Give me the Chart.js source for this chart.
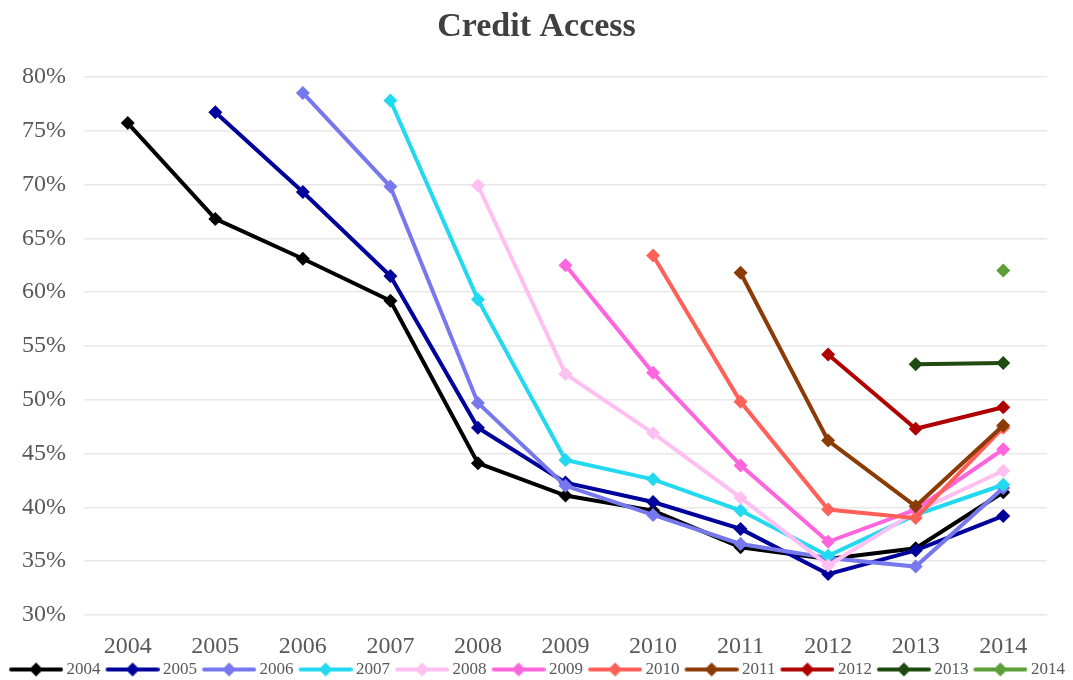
<!DOCTYPE html>
<html>
<head>
<meta charset="utf-8">
<script src="https://cdn.jsdelivr.net/npm/chart.js@4"></script>
<style>
  body { margin: 0; background: #fff; }
</style>
</head>
<body>
<canvas id="myChart" width="1073" height="680"></canvas>
<script>
// years on the x axis
var years = ["2004", "2005", "2006", "2007", "2008", "2009", "2010", "2011", "2012", "2013", "2014"];
var yTicks = [30, 35, 40, 45, 50, 55, 60, 65, 70, 75, 80];

// one cohort per line, values in %
var c2004 = [75.7, 66.8, 63.1, 59.2, 44.1, 41.1, 39.7, 36.3, 35.2, 36.2, 41.4];
var c2005 = [null, 76.7, 69.3, 61.5, 47.4, 42.3, 40.5, 38.0, 33.8, 36.0, 39.2];
var c2006 = [null, null, 78.5, 69.8, 49.7, 42.0, 39.3, 36.6, 35.3, 34.5, 41.8];
var c2007 = [null, null, null, 77.8, 59.3, 44.4, 42.6, 39.7, 35.5, 39.3, 42.1];
var c2008 = [null, null, null, null, 69.9, 52.4, 46.9, 40.9, 34.6, 39.6, 43.4];
var c2009 = [null, null, null, null, null, 62.5, 52.5, 43.9, 36.8, 39.8, 45.4];
var c2010 = [null, null, null, null, null, null, 63.4, 49.8, 39.8, 39.0, 47.4];
var c2011 = [null, null, null, null, null, null, null, 61.8, 46.2, 40.1, 47.6];
var c2012 = [null, null, null, null, null, null, null, null, 54.2, 47.3, 49.3];
var c2013 = [null, null, null, null, null, null, null, null, null, 53.3, 53.4];
var c2014 = [null, null, null, null, null, null, null, null, null, null, 62.0];

var seriesNames = ["2004", "2005", "2006", "2007", "2008", "2009", "2010", "2011", "2012", "2013", "2014"];
var seriesData = [c2004, c2005, c2006, c2007, c2008, c2009, c2010, c2011, c2012, c2013, c2014];
var colors = ["#000000", "#00009a", "#7878ee", "#22d9f0", "#ffbff0", "#ff66dd", "#ff6058", "#8c3a06", "#b00000", "#1f4a12", "#5c9e38"];

var serif = "'Liberation Serif', 'Times New Roman', serif";

// line + diamond swatch for the legend
function legendIcon(color) {
    var c = document.createElement('canvas');
    c.width = 60;
    c.height = 16;
    var g = c.getContext('2d');
    g.strokeStyle = color;
    g.lineWidth = 4;
    g.lineCap = 'round';
    g.beginPath();
    g.moveTo(8, 8);
    g.lineTo(58, 8);
    g.stroke();
    g.fillStyle = color;
    g.beginPath();
    g.moveTo(33, 1);
    g.lineTo(40, 8);
    g.lineTo(33, 15);
    g.lineTo(26, 8);
    g.closePath();
    g.fill();
    return c;
}

var datasets = [];
for (var i = 0; i < seriesNames.length; i++) {
    datasets.push({
        label: seriesNames[i],
        data: seriesData[i],
        borderColor: colors[i],
        backgroundColor: colors[i],
        borderWidth: 4,
        pointStyle: 'rectRot',
        pointRadius: 7,
        pointHoverRadius: 7,
        pointBorderWidth: 0,
        order: -i
    });
}

var ctx = document.getElementById("myChart").getContext('2d');

var myChart = new Chart(ctx, {
    type: 'line',
    data: {
        labels: years,
        datasets: datasets
    },
    options: {
        responsive: false,
        animation: false,
        layout: { padding: 0 },
        plugins: {
            title: {
                display: true,
                text: 'Credit Access',
                color: '#404040',
                font: { family: serif, size: 34, weight: 'bold' },
                padding: { top: 7, bottom: 29 }
            },
            legend: {
                position: 'bottom',
                maxHeight: 23,
                labels: {
                    usePointStyle: true,
                    pointStyleWidth: 50,
                    padding: 4,
                    color: '#595959',
                    font: { family: serif, size: 17 },
                    generateLabels: function (chart) {
                        return seriesNames.map(function (n, i) {
                            return {
                                text: n,
                                pointStyle: legendIcon(colors[i]),
                                fillStyle: colors[i],
                                strokeStyle: colors[i],
                                lineWidth: 0,
                                hidden: false,
                                datasetIndex: i,
                                fontColor: '#595959'
                            };
                        });
                    }
                }
            },
            tooltip: { enabled: false }
        },
        scales: {
            x: {
                offset: true,
                grid: { display: false, drawTicks: false },
                border: { display: false },
                afterFit: function (axis) { axis.height = 42; },
                ticks: {
                    color: '#595959',
                    font: { family: serif, size: 24, lineHeight: 1 },
                    padding: 20
                }
            },
            y: {
                min: 30,
                max: 80,
                afterBuildTicks: function (axis) {
                    axis.ticks = yTicks.map(function (v) { return { value: v }; });
                },
                afterFit: function (axis) { axis.width = 84; },
                grid: { color: '#e8e8e8', lineWidth: 1.5, drawTicks: false },
                border: { display: false },
                ticks: {
                    color: '#595959',
                    font: { family: serif, size: 24 },
                    padding: 18,
                    callback: function (v) { return v + '%'; }
                }
            },
            // empty axis on the right, only to leave the margin
            yRight: {
                position: 'right',
                min: 30,
                max: 80,
                afterFit: function (axis) { axis.width = 26; },
                grid: { display: false },
                border: { display: false },
                ticks: { display: false }
            }
        }
    }
});
</script>
</body>
</html>
